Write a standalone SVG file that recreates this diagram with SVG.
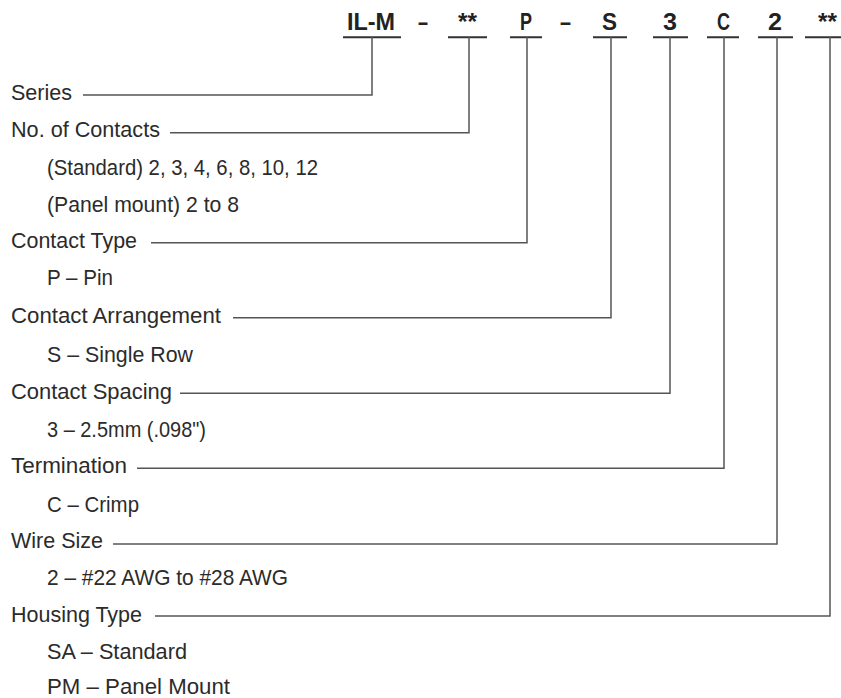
<svg xmlns="http://www.w3.org/2000/svg" width="841" height="698" viewBox="0 0 841 698">
<style>
.lbl{font-family:"Liberation Sans",Arial,sans-serif;font-size:22px;fill:#2b2b2b}
.code{font-family:"Liberation Sans",Arial,sans-serif;font-size:23px;font-weight:bold;fill:#222}
.ul{stroke:#333;stroke-width:2;fill:none}
.conn{stroke:#555;stroke-width:1.5;fill:none}
</style>
<rect width="841" height="698" fill="#fff"/>
<g id="code">
<text class="code" x="347" y="30" textLength="48" lengthAdjust="spacingAndGlyphs">IL-M</text>
<text class="code" x="418" y="30" textLength="10" lengthAdjust="spacingAndGlyphs">–</text>
<text class="code" x="458" y="30" textLength="19" lengthAdjust="spacingAndGlyphs">**</text>
<text class="code" x="520" y="30" textLength="12" lengthAdjust="spacingAndGlyphs">P</text>
<text class="code" x="560" y="30" textLength="11" lengthAdjust="spacingAndGlyphs">–</text>
<text class="code" x="602" y="30" textLength="15" lengthAdjust="spacingAndGlyphs">S</text>
<text class="code" x="663" y="30" textLength="14" lengthAdjust="spacingAndGlyphs">3</text>
<text class="code" x="717" y="30" textLength="13" lengthAdjust="spacingAndGlyphs">C</text>
<text class="code" x="768" y="30" textLength="14" lengthAdjust="spacingAndGlyphs">2</text>
<text class="code" x="818" y="30" textLength="19" lengthAdjust="spacingAndGlyphs">**</text>
<path class="ul" d="M343 37.3H401M448 37.3H487M510 37.3H542M593 37.3H627M653 37.3H688M707 37.3H739M758 37.3H793M805 37.3H841"/>
</g>
<g id="connectors">
<path class="conn" d="M83 95H372V37"/>
<path class="conn" d="M170 132.7H469V37"/>
<path class="conn" d="M151 242.7H527V37"/>
<path class="conn" d="M233 317.7H611V37"/>
<path class="conn" d="M180 393.3H670V37"/>
<path class="conn" d="M137 468.3H724V37"/>
<path class="conn" d="M113 544H777V37"/>
<path class="conn" d="M155 616H830V37"/>
</g>
<g id="series"><text class="lbl" x="11" y="100" textLength="61" lengthAdjust="spacingAndGlyphs">Series</text></g>
<g id="contacts">
<text class="lbl" x="11" y="136.7" textLength="149" lengthAdjust="spacingAndGlyphs">No. of Contacts</text>
<text class="lbl" x="47" y="175" textLength="271" lengthAdjust="spacingAndGlyphs">(Standard) 2, 3, 4, 6, 8, 10, 12</text>
<text class="lbl" x="47" y="211.7" textLength="192" lengthAdjust="spacingAndGlyphs">(Panel mount) 2 to 8</text>
</g>
<g id="contact-type">
<text class="lbl" x="11" y="248.3" textLength="126" lengthAdjust="spacingAndGlyphs">Contact Type</text>
<text class="lbl" x="47" y="285" textLength="66" lengthAdjust="spacingAndGlyphs">P – Pin</text>
</g>
<g id="contact-arrangement">
<text class="lbl" x="11" y="323.3" textLength="210" lengthAdjust="spacingAndGlyphs">Contact Arrangement</text>
<text class="lbl" x="47" y="361.7" textLength="146" lengthAdjust="spacingAndGlyphs">S – Single Row</text>
</g>
<g id="contact-spacing">
<text class="lbl" x="11" y="398.5" textLength="161" lengthAdjust="spacingAndGlyphs">Contact Spacing</text>
<text class="lbl" x="47" y="436.7" textLength="159" lengthAdjust="spacingAndGlyphs">3 – 2.5mm (.098")</text>
</g>
<g id="termination">
<text class="lbl" x="11" y="473" textLength="116" lengthAdjust="spacingAndGlyphs">Termination</text>
<text class="lbl" x="47" y="511.7" textLength="92" lengthAdjust="spacingAndGlyphs">C – Crimp</text>
</g>
<g id="wire-size">
<text class="lbl" x="11" y="548.3" textLength="92" lengthAdjust="spacingAndGlyphs">Wire Size</text>
<text class="lbl" x="47" y="585" textLength="241" lengthAdjust="spacingAndGlyphs">2 – #22 AWG to #28 AWG</text>
</g>
<g id="housing-type">
<text class="lbl" x="11" y="621.7" textLength="131" lengthAdjust="spacingAndGlyphs">Housing Type</text>
<text class="lbl" x="47" y="659" textLength="140" lengthAdjust="spacingAndGlyphs">SA – Standard</text>
<text class="lbl" x="47" y="694" textLength="183" lengthAdjust="spacingAndGlyphs">PM – Panel Mount</text>
</g>
</svg>
